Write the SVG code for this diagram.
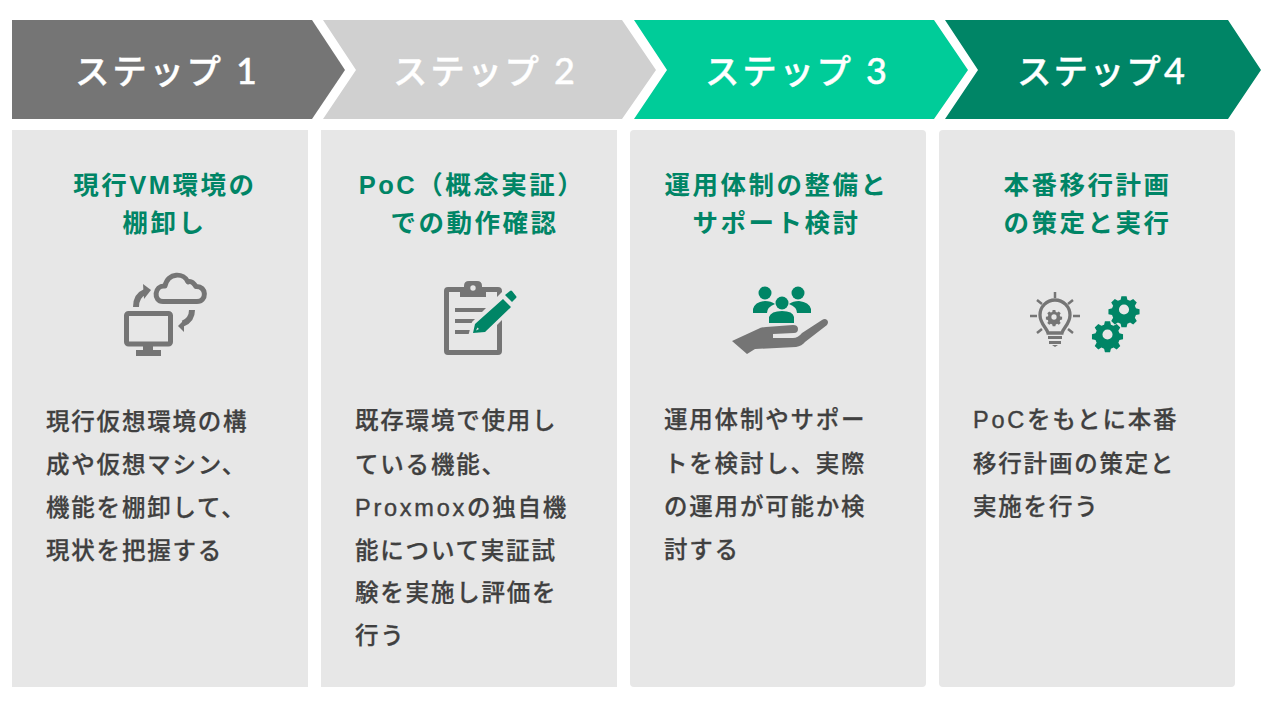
<svg xmlns="http://www.w3.org/2000/svg" width="1280" height="720" viewBox="0 0 1280 720">
<defs>
<style>
text{font-family:"Liberation Sans","Noto Sans CJK JP",sans-serif}
.st{font-size:34.500px;font-weight:500;fill:#fff;stroke:#fff;stroke-width:.4px;letter-spacing:2.700px}
.t4{letter-spacing:1.900px}
.n{font-family:Lato,sans-serif;font-weight:500;font-size:36px}
.ti{font-size:25.500px;font-weight:700;fill:#008566;letter-spacing:2.500px;text-anchor:middle}
.bd{font-size:23.500px;font-weight:500;fill:#404040;stroke:#404040;stroke-width:.25px;letter-spacing:1.800px}
.l{letter-spacing:2.750px;stroke-width:.4px}
.c{fill:#e7e7e7}
.g{fill:#757575}.e{fill:#008566}
.gs{fill:none;stroke:#757575}
</style>
<path id="gear" d="M-2.800-14.500h5.600l.9 3.900 2.900 1.200 3.400-2.100 3.900 3.900-2.100 3.400 1.200 2.900 3.900.9v5.600l-3.900.9-1.200 2.900 2.100 3.400-3.900 3.900-3.400-2.100-2.900 1.200-.9 3.900h-5.600l-.9-3.900-2.900-1.200-3.400 2.100-3.900-3.900 2.100-3.400-1.200-2.900-3.900-.9v-5.600l3.900-.9 1.200-2.900-2.100-3.400 3.900-3.900 3.400 2.100 2.900-1.200zM0-5.500a5.500 5.500 0 1 0 0 11 5.500 5.500 0 1 0 0-11z"/>
</defs>
<g id="step1"><path fill="#757575" d="M12 20H312L345 70 312 119H12z"/><text class="st" x="75" y="84">ステップ<tspan class="n" x="236">1</tspan></text></g>
<g id="step2"><path fill="#d0d0d0" d="M323 20H622L656 70 622 119H323L356 70z"/><text class="st" x="393" y="84">ステップ<tspan class="n" x="554">2</tspan></text></g>
<g id="step3"><path fill="#00cc99" d="M634 20H934L968 70 934 119H634L667 70z"/><text class="st" x="705" y="84">ステップ<tspan class="n" x="866">3</tspan></text></g>
<g id="step4"><path fill="#008566" d="M945 20H1228L1261 70 1228 119H945L978 70z"/><text class="st t4" x="1017" y="84">ステップ<tspan class="n" x="1164">4</tspan></text></g>

<g id="card1"><rect class="c" x="12" y="130" width="296" height="557"/>
<text class="ti" x="165" y="193.500">現行VM環境の</text><text class="ti" x="164.500" y="231.500">棚卸し</text>
<g id="icon1">
<path class="gs" stroke-width="5" stroke-linejoin="round" d="M163 301.500H197C207 301.500 207 286 196 286.500C193 282 190 281 188 282C184 272.500 168 272 165 286C154 285 153 301.500 163 301.500z"/>
<rect class="gs" x="126.500" y="313.500" width="44" height="30.500" rx="2" stroke-width="5"/>
<path class="g" d="M143 346h10v4h8v6h-25v-6h7z"/>
<path class="gs" stroke-width="6" d="M136 307c0-8 4-13 9-15"/><path class="g" d="M143 284l8 6-7 9z"/>
<path class="gs" stroke-width="6" d="M192 310c0 7-3 11-9 13.500"/><path class="g" d="M184 332l-6-6 6-6z"/>
</g>
<text class="bd" x="46" y="430">現行仮想環境の構</text><text class="bd" x="46" y="473">成や仮想マシン、</text><text class="bd" x="46" y="516">機能を棚卸して、</text><text class="bd" x="46" y="559">現状を把握する</text>
</g>

<g id="card2"><rect class="c" x="321" y="130" width="296" height="557"/>
<text class="ti" x="472" y="193.500">PoC（概念実証）</text><text class="ti" x="474.500" y="231.500">での動作確認</text>
<g id="icon2">
<path class="g" fill-rule="evenodd" d="M448 287h16v-1q0-5 5-5h8q5 0 5 5v1h16a4 4 0 0 1 4 4v60a4 4 0 0 1-4 4h-50a4 4 0 0 1-4-4V291a4 4 0 0 1 4-4z"/>
<path fill="#e7e7e7" d="M449 292h11v5h26v-5h11v58h-48zM473 285.300a2.700 2.700 0 1 0 0 5.400 2.700 2.700 0 1 0 0-5.400z"/>
<path class="g" d="M455 308h32v4h-32zM455 319h22v4h-22zM455 330h15v4h-15z"/>
<path fill="#e7e7e7" d="M467 340l5-18 30-30 14 14-30 30z"/>
<path class="e" fill-rule="evenodd" d="M473 333l2-9 28-25 8 8-26 25zM477.500 327.500l-1.500 3 3-1.500zM505 295l5-4q1-1 2 0l4 5q1 1 0 2l-4 4z"/>
</g>
<text class="bd" x="355" y="429">既存環境で使用し</text><text class="bd" x="355" y="473">ている機能、</text><text class="bd" x="355" y="516"><tspan class="l">Proxmox</tspan>の独自機</text><text class="bd" x="355" y="559">能について実証試</text><text class="bd" x="355" y="601">験を実施し評価を</text><text class="bd" x="355" y="644">行う</text>
</g>

<g id="card3"><rect class="c" x="630" y="130" width="296" height="557" rx="4"/>
<text class="ti" x="776.500" y="193.500">運用体制の整備と</text><text class="ti" x="776.500" y="231.500">サポート検討</text>
<g id="icon3">
<circle class="e" cx="765" cy="293" r="6.500"/><circle class="e" cx="798" cy="293" r="6.500"/><circle class="e" cx="782" cy="303" r="6.500"/>
<path class="e" d="M753 313v-4q2-7 12-8 6 0 10 3-8 3-8 9zM811 313v-4q-2-7-12-8-6 0-10 3 8 3 8 9zM769 323v-6q2-6 13-6t12 6v6z"/>
<path class="g" d="M732 341l26-12q3-2 8-2l27-2q5 0 5 4t-4 4l-21 1v4h20q5 0 9-5l20-13q3-2 5 0t0 5l-22 17q-3 4-9 5l-41 2-8 5z"/>
</g>
<text class="bd" x="664" y="428">運用体制やサポー</text><text class="bd" x="664" y="472">トを検討し、実際</text><text class="bd" x="664" y="515">の運用が可能か検</text><text class="bd" x="664" y="558">討する</text>
</g>

<g id="card4"><rect class="c" x="939" y="130" width="296" height="557" rx="4"/>
<text class="ti" x="1087.500" y="193.500">本番移行計画</text><text class="ti" x="1087.500" y="231.500">の策定と実行</text>
<g id="icon4">
<path class="gs" stroke-width="3.300" d="M1048 333c-1-5-8-9-8-18a15 15 0 0 1 30 0c0 9-7 13-8 18z"/>
<path class="gs" stroke-width="2.500" d="M1055 292v6M1037 300l5 4M1073 300l-5 4M1030 316h7M1080 316h-7M1037 333l5-4M1073 333l-5-4"/>
<path class="g" d="M1048 336h14v3h-14zM1049 341h12v3h-12zM1052 345h6l-3 2z"/>
<use href="#gear" class="g" transform="translate(1054 317) scale(.48)"/>
<use href="#gear" class="e" transform="translate(1124 309.500) scale(.92)"/>
<use href="#gear" class="e" transform="translate(1107.500 334.500) scale(.92)"/>
</g>
<text class="bd" x="973" y="428"><tspan class="l">PoC</tspan>をもとに本番</text><text class="bd" x="973" y="472">移行計画の策定と</text><text class="bd" x="973" y="515">実施を行う</text>
</g>
</svg>
